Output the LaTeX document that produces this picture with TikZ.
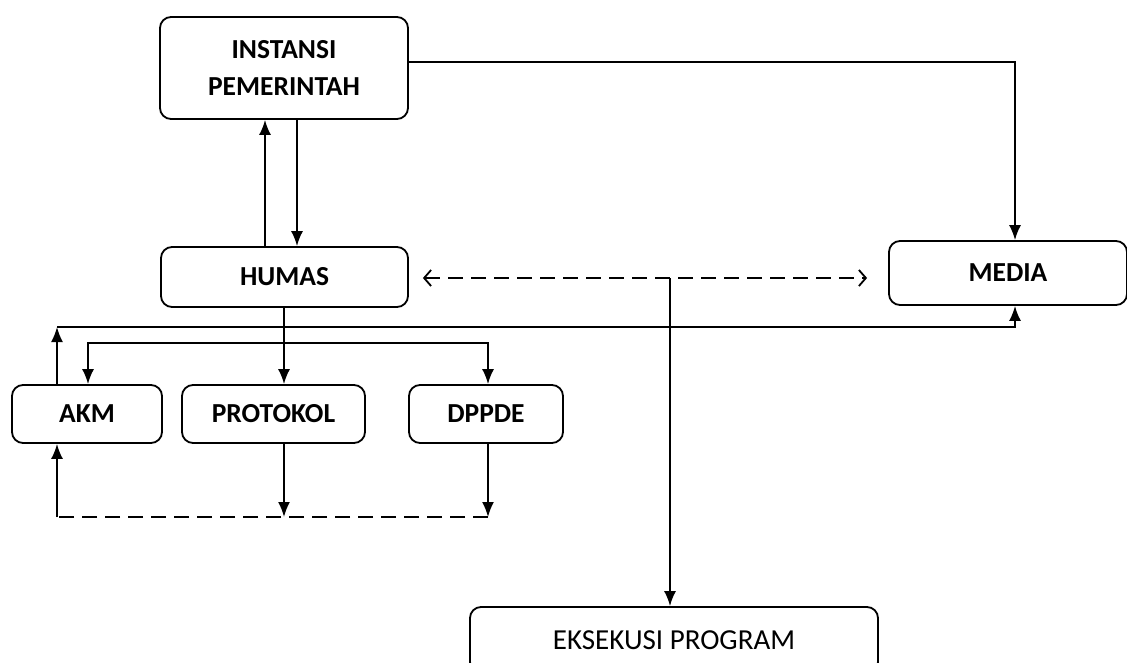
\documentclass[tikz,border=0pt]{standalone}
\usepackage{fontspec}
\setmainfont{Carlito}
\usetikzlibrary{arrows.meta,positioning}
\tikzset{
  unit/.style={draw, rounded corners=11pt, line width=1.8pt, align=center, inner sep=0pt,
    font=\bfseries\fontsize{27.5}{37}\selectfont},
  flow/.style={line width=1.8pt, -{Latex[length=15pt,width=12pt]}},
  both/.style={line width=1.8pt, {Latex[length=15pt,width=12pt]}-{Latex[length=15pt,width=12pt]}},
  dashline/.style={line width=1.8pt, dash pattern=on 15pt off 8pt},
}
\begin{document}
\begin{tikzpicture}[x=1pt,y=-1pt]
\useasboundingbox (0,0) rectangle (1127,662);
% boxes
\node[unit, minimum width=248pt, minimum height=102pt] (instansi) at (284,68) {INSTANSI\\PEMERINTAH};
\node[unit, minimum width=247pt, minimum height=60pt] (humas) at (284.5,277) {HUMAS};
\node[unit, minimum width=238pt, minimum height=64pt] (media) at (1008,273) {MEDIA};
\node[unit, minimum width=150pt, minimum height=58pt] (akm) at (87,414) {AKM};
\node[unit, minimum width=183pt, minimum height=58pt] (protokol) at (273.5,414) {PROTOKOL};
\node[unit, minimum width=154pt, minimum height=58pt] (dppde) at (486,414) {DPPDE};
\node[unit, minimum width=408pt, minimum height=66pt, font=\fontsize{29}{34}\selectfont] (eksekusi) at (674,640) {EKSEKUSI PROGRAM};
% turning points
\coordinate (up) at (265,0);
\coordinate (dn) at (297,0);
\coordinate (mx) at (1015,62);
\coordinate (ex) at (670,278);
\coordinate (ak) at (57,327);
\coordinate (br) at (88,343);
\coordinate (dd) at (488,517);
\coordinate (pb) at (284,517);
\coordinate (bl) at (57,517);
% instansi <-> humas
\draw[flow] (humas.north -| up) -- (instansi.south -| up);
\draw[flow] (instansi.south -| dn) -- (humas.north -| dn);
\draw[flow] (instansi.east |- mx) -| (media.north -| mx);
% humas <-> media
\draw[dashline, {Straight Barb[length=7pt,width=16pt]}-{Straight Barb[length=7pt,width=16pt]}] ([xshift=14pt]humas.east |- ex) -- ([xshift=-21pt]media.west |- ex);
\draw[flow] (ex) -- (eksekusi.north -| ex);
% humas down to the units
\draw[flow] (humas.south -| pb) -- (protokol.north -| pb);
\draw[flow] (akm.north -| ak) -- (ak);
\draw[flow] (ak) -| (media.south -| mx);
\draw[both] (akm.north -| br) -- (br) -| (dppde.north -| dd);
% back to akm
\draw[flow] (protokol.south -| pb) -- (pb);
\draw[flow] (dppde.south -| dd) -- (dd);
\draw[dashline] (dd) -- (bl);
\draw[flow] (bl) -- (akm.south -| bl);
\end{tikzpicture}
\end{document}
